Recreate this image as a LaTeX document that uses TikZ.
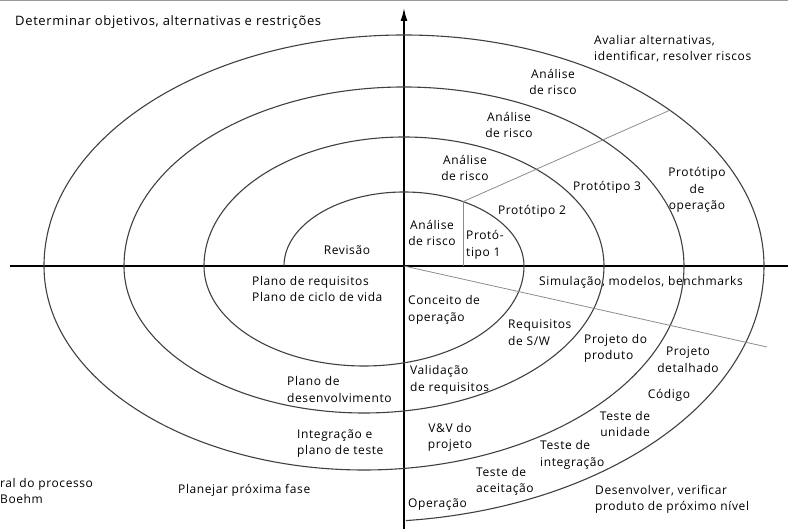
\documentclass[tikz,border=0pt]{standalone}
\usepackage{fontspec}
\setmainfont{Open Sans}[LetterSpace=5]
\usetikzlibrary{arrows.meta}

\begin{document}
\begin{tikzpicture}[x=1pt,y=1pt,
  lbl/.style={inner sep=0pt,align=center,font=\fontsize{12}{16.5}\selectfont},
  lft/.style={lbl,align=left,anchor=west},
  spiral/.style={draw=black!75,line width=1.1pt},
  sector/.style={draw=black!45,line width=0.8pt}]
\useasboundingbox (-404,-263) rectangle (384,266);
\draw[black!40] (-404,265.5) -- (384,265.5);

\draw[line width=1.8pt] (-394,0) -- (384,0);
\draw[line width=1.6pt,-{Latex[length=13pt,width=7pt]}] (0,-263) -- (0,258);

\draw[spiral] (-120,0)
  arc[start angle=180,end angle=0,x radius=120pt,y radius=74pt]
  arc[start angle=0,end angle=-180,x radius=160pt,y radius=100pt]
  arc[start angle=180,end angle=0,x radius=200pt,y radius=129pt]
  arc[start angle=0,end angle=-180,x radius=240pt,y radius=147pt]
  arc[start angle=180,end angle=0,x radius=280pt,y radius=179pt]
  arc[start angle=0,end angle=-180,x radius=320pt,y radius=204pt]
  arc[start angle=180,end angle=0,x radius=360pt,y radius=231pt]
  arc[start angle=0,end angle=-84,x radius=400pt,y radius=256pt];

\coordinate (p1) at (60.5:120pt and 74pt);
\coordinate (p4) at (42.4:360pt and 231pt);
\coordinate (o) at (0,0);
\coordinate (q) at (363,-81);
\draw[sector] (p1) -- (p1 |- o);
\draw[sector] (p1) -- (p4);
\draw[sector] (o) -- (q);

\node[lft,font=\fontsize{13}{16.5}\selectfont] (det) at (-389,244) {Determinar objetivos, alternativas e restrições};
\node[lft] (aval) at (190,217.5) {Avaliar alternativas,\\identificar, resolver riscos};
\node[lbl] (ar1) at (149,184) {Análise\\de risco};
\node[lbl] (ar2) at (105,141) {Análise\\de risco};
\node[lbl] (ar3) at (61,98) {Análise\\de risco};
\node[lbl] (ar4) at (28,33) {Análise\\de risco};
\node[lft] (prot1) at (62,21) {Protó-\\tipo 1};
\node[lbl] (prot2) at (128,55) {Protótipo 2};
\node[lbl] (prot3) at (203,79) {Protótipo 3};
\node[lbl] (protop) at (293,76) {Protótipo\\de\\operação};
\node[lbl] (rev) at (-57,16) {Revisão};
\node[lft] (plreq) at (-152,-23) {Plano de requisitos\\Plano de ciclo de vida};
\node[lft] (pldev) at (-117,-123.5) {Plano de\\desenvolvimento};
\node[lft] (plint) at (-107,-177.5) {Integração e\\plano de teste};
\node[lft] (boehm) at (-404,-225) {ral do processo\\Boehm};
\node[lft] (prox) at (-226,-224) {Planejar próxima fase};
\node[lbl] (sim) at (237,-16) {Simulação, modelos, benchmarks};
\node[lft] (conc) at (4,-44) {Conceito de\\operação};
\node[lft] (reqsw) at (104,-66.5) {Requisitos\\de S/W};
\node[lft] (prjprod) at (180,-82.5) {Projeto do\\produto};
\node[lbl] (prjdet) at (284,-93.5) {Projeto\\detalhado};
\node[lft] (valreq) at (6,-114) {Validação\\de requisitos};
\node[lbl] (cod) at (265,-129) {Código};
\node[lbl] (tunid) at (221,-158) {Teste de\\unidade};
\node[lbl] (vv) at (46,-171.5) {V\&V do\\projeto};
\node[lft] (tinteg) at (136,-189) {Teste de\\integração};
\node[lft] (taceit) at (72,-215.5) {Teste de\\aceitação};
\node[lft] (oper) at (4,-239) {Operação};
\node[lft] (desenv) at (191,-233.5) {Desenvolver, verificar\\produto de próximo nível};
\end{tikzpicture}
\end{document}
